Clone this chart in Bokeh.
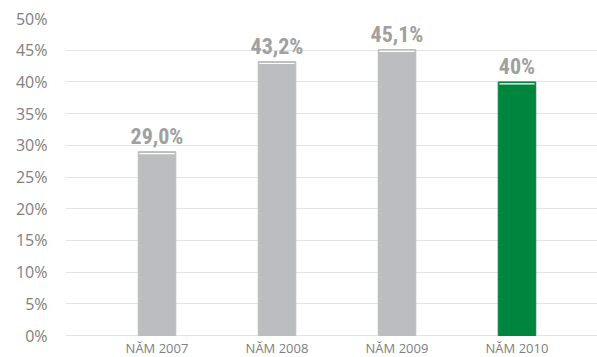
from bokeh.plotting import figure
from bokeh.models import ColumnDataSource, FixedTicker, Range1d, CustomJSTickFormatter
from bokeh.core.properties import value
from bokeh.embed import file_html
from bokeh.resources import INLINE

categories = ["NĂM 2007", "NĂM 2008", "NĂM 2009", "NĂM 2010"]
values = [29.0, 43.2, 45.1, 40.0]
value_labels = ["29,0%", "43,2%", "45,1%", "40%"]
colors = ["#bcbdc0", "#bcbdc0", "#bcbdc0", "#00853e"]
y_ticks = [0, 5, 10, 15, 20, 25, 30, 35, 40, 45, 50]

xs = list(range(1, len(categories) + 1))
BAR_W = 0.313
src = ColumnDataSource(dict(x=xs, top=values, lab=value_labels, color=colors,
                            cat=categories, base=[0] * len(xs)))
hl = ColumnDataSource(dict(x0=[x - BAR_W / 2 + 0.01 for x in xs],
                           x1=[x + BAR_W / 2 - 0.01 for x in xs],
                           y=[v - 0.3 for v in values]))

p = figure(width=597, height=357, output_backend="svg", toolbar_location=None,
           x_range=Range1d(0.2375, 4.671), y_range=Range1d(-3.47, 50),
           min_border_left=65, min_border_right=0, min_border_top=18, min_border_bottom=0)
p.outline_line_color = None
p.background_fill_color = "white"
p.border_fill_color = "white"

p.vbar(x="x", top="top", width=BAR_W, bottom=0, color="color", source=src)
p.segment(x0="x0", x1="x1", y0="y", y1="y", source=hl, line_color="white", line_width=1.2)

p.text(x="x", y="top", text="lab", source=src, text_align="center", text_baseline="bottom",
       y_offset=-3, text_color="#a0a0a0", text_font_size="22px", text_font_style="bold",
       text_font=value("'Roboto Condensed', 'Liberation Sans Narrow', 'DejaVu Sans Condensed', sans-serif"))

# category labels under the baseline
p.text(x="x", y="base", text="cat", source=src, text_align="center", text_baseline="top",
       y_offset=3, text_color="#808080", text_font_size="13px", text_font=value("Open Sans"))

p.xaxis.visible = False

p.yaxis.ticker = FixedTicker(ticks=y_ticks)
p.yaxis.formatter = CustomJSTickFormatter(code="return tick + '%';")
p.yaxis.axis_line_color = None
p.yaxis.major_tick_line_color = None
p.yaxis.minor_tick_line_color = None
p.yaxis.major_tick_out = 0
p.yaxis.major_label_text_font = "Open Sans"
p.yaxis.major_label_text_font_size = "16px"
p.yaxis.major_label_text_color = "#808080"
p.yaxis.major_label_standoff = 18

p.xgrid.grid_line_color = None
p.ygrid.grid_line_color = "#e3e3e3"
p.ygrid.ticker = FixedTicker(ticks=y_ticks)

open("out.html", "w").write(file_html(p, INLINE))
